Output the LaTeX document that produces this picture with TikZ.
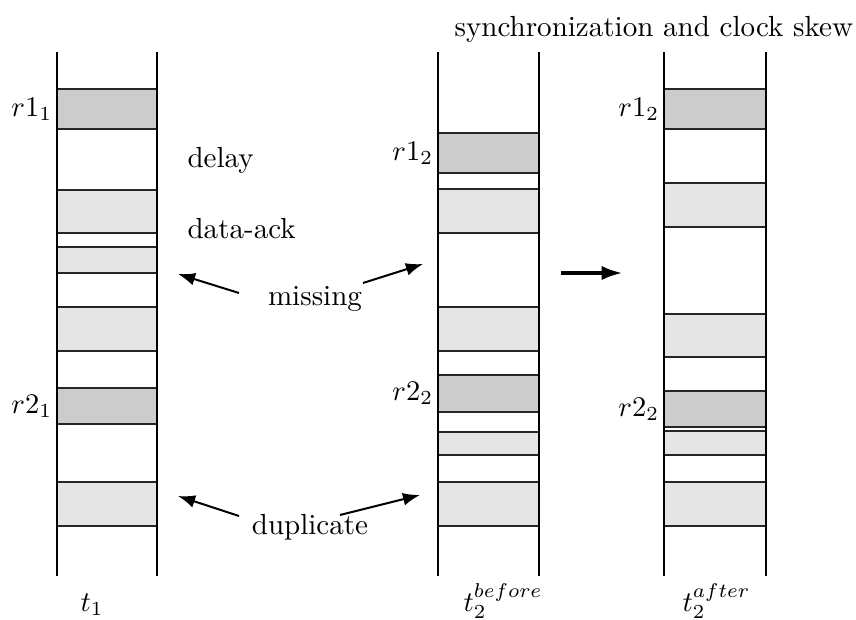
\documentclass[tikz,border=0pt]{standalone}
\usetikzlibrary{arrows.meta}
\definecolor{slotdark}{gray}{0.8}
\definecolor{slotlight}{gray}{0.9}
\begin{document}
\begin{tikzpicture}[x={(0.35088pt,0)}, y={(0,-0.35088pt)},
  every node/.style={font=\fontsize{10.2pt}{12pt}\selectfont},
  rail/.style={line width=1pt},
  slot/.style={draw=black!85, line width=0.45pt},
  req/.style={slot, fill=slotdark},
  msg/.style={slot, fill=slotlight},
  note/.style={inner sep=0pt},
  rlabel/.style={anchor=east, inner sep=1.5pt},
  pointer/.style={line width=0.7pt, -{Latex[length=6pt,width=4.5pt]}},
  shiftarrow/.style={line width=1.4pt, -{Latex[length=7.5pt,width=5pt]}}]
\useasboundingbox (0,0) rectangle (856,620);

% column t1
\draw[req] (57,89)  rectangle (157,129);
\draw[msg] (57,190) rectangle (157,233);
\draw[msg] (57,247) rectangle (157,273);
\draw[msg] (57,307) rectangle (157,351);
\draw[req] (57,388) rectangle (157,424);
\draw[msg] (57,482) rectangle (157,526);

% column t2 before
\draw[req] (438,133) rectangle (539,173);
\draw[msg] (438,189) rectangle (539,233);
\draw[msg] (438,307) rectangle (539,351);
\draw[req] (438,375) rectangle (539,412);
\draw[msg] (438,432) rectangle (539,455);
\draw[msg] (438,482) rectangle (539,526);

% column t2 after
\draw[req] (664,89)  rectangle (766,129);
\draw[msg] (664,183) rectangle (766,227);
\draw[msg] (664,314) rectangle (766,357);
\draw[req] (664,391) rectangle (766,427);
\draw[msg] (664,431) rectangle (766,455);
\draw[msg] (664,482) rectangle (766,526);

% time lines
\foreach \x in {57,157,438,539,664,766}
  \draw[rail] (\x,52) -- (\x,576);

% request labels
\node[rlabel] (r11)  at (57,109)   {$r1_1$};
\node[rlabel] (r12a) at (438,153)  {$r1_2$};
\node[rlabel] (r12b) at (664,109)  {$r1_2$};
\node[rlabel] (r21)  at (57,406)   {$r2_1$};
\node[rlabel] (r22a) at (438,393.5){$r2_2$};
\node[rlabel] (r22b) at (664,409)  {$r2_2$};

% texts
\node[note, anchor=base west] (title) at (454,37) {synchronization and clock skew};
\node[note, anchor=base west] (delay) at (187,167) {delay};
\node[note, anchor=base west] (dataack) at (187,238) {data-ack};
\node[note, anchor=base] (missing) at (315,305) {missing};
\node[note, anchor=base] (duplicate) at (310,534) {duplicate};
\node[note, anchor=base west] (t1) at (80,611) {$t_1$};
\node[note, anchor=base west] (t2b) at (463,611) {$t_2^{before}$};
\node[note, anchor=base west] (t2a) at (682,611) {$t_2^{after}$};

% pointer ends
\coordinate (mL0) at (239,293);
\coordinate (mL1) at (178,274);
\coordinate (mR0) at (363,283);
\coordinate (mR1) at (423,264);
\coordinate (dL0) at (239,516);
\coordinate (dL1) at (178,496);
\coordinate (dR0) at (340,515);
\coordinate (dR1) at (420,495);
\coordinate (s0) at (561,273);
\coordinate (s1) at (623,273);

\draw[pointer] (mL0) -- (mL1);
\draw[pointer] (mR0) -- (mR1);
\draw[pointer] (dL0) -- (dL1);
\draw[pointer] (dR0) -- (dR1);
\draw[shiftarrow] (s0) -- (s1);
\end{tikzpicture}
\end{document}
